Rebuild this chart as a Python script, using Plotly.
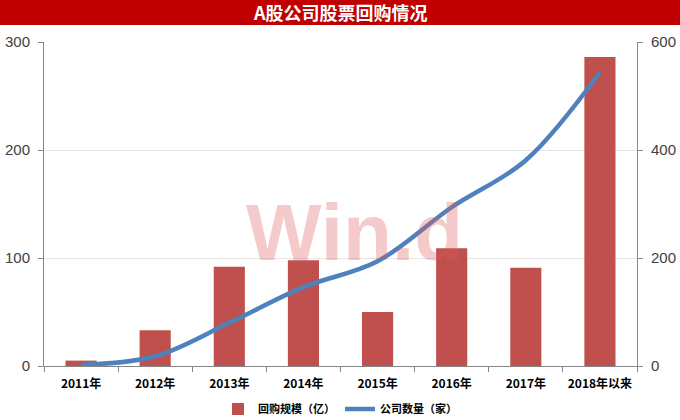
import plotly.graph_objects as go

categories = ["2011年", "2012年", "2013年", "2014年", "2015年", "2016年", "2017年", "2018年以来"]
buyback_scale = [5, 33, 92, 98, 50, 109, 91, 286]          # 回购规模（亿）
company_count = [2, 18, 80, 146, 194, 294, 381, 544]       # 公司数量（家）
left_ticks = [0, 100, 200, 300]
right_ticks = [0, 200, 400, 600]

W, H = 680, 420
ml, mr, mt, mb = 44, 43, 42, 54
pw, ph = W - ml - mr, H - mt - mb

def px_x(p):
    return (p - ml) / pw

def px_y(p):
    return (H - mb - p) / ph

fig = go.Figure()
fig.add_trace(go.Bar(
    x=categories, y=buyback_scale, name="回购规模（亿）",
    marker=dict(color="#C0504D", line=dict(width=0)), width=0.42,
    yaxis="y",
))
fig.add_trace(go.Scatter(
    x=categories, y=company_count, name="公司数量（家）",
    mode="lines", line=dict(color="#4F81BD", width=4.5, shape="spline", smoothing=1.0),
    yaxis="y2",
))

tick_font = dict(size=15, color="#404040", family="Liberation Sans Narrow, Arial Narrow, sans-serif")

fig.update_layout(
    width=W, height=H,
    margin=dict(l=ml, r=mr, t=mt, b=mb, autoexpand=False),
    paper_bgcolor="white", plot_bgcolor="white",
    font=dict(family="Noto Sans CJK SC, sans-serif", color="#000"),
    showlegend=True,
    legend=dict(orientation="h", x=0.5, xanchor="center", xref="container",
                y=1 - 409 / H, yanchor="middle", yref="container",
                font=dict(size=11, color="#000", family="Noto Sans CJK SC", weight="bold"),
                tracegroupgap=0, bgcolor="rgba(0,0,0,0)"),
    xaxis=dict(type="category", showline=True, linecolor="#868686", linewidth=1,
               ticks="outside", tickson="boundaries", ticklen=5, tickcolor="#868686",
               tickfont=dict(size=12, color="#000", family="Noto Sans CJK SC", weight="bold"),
               ticklabelstandoff=7,
               showgrid=False, automargin=False),
    yaxis=dict(range=[0, 300], tickvals=left_ticks, showline=True, linecolor="#868686",
               ticks="outside", ticklen=5, tickcolor="#868686",
               showgrid=True, gridcolor="#E6E6E6", gridwidth=1, zeroline=False,
               tickfont=tick_font, ticklabelstandoff=5, automargin=False),
    yaxis2=dict(range=[0, 600], tickvals=right_ticks, overlaying="y", side="right",
                showline=True, linecolor="#868686", ticks="outside", ticklen=5,
                tickcolor="#868686", showgrid=False, zeroline=False,
                tickfont=tick_font, ticklabelstandoff=5, automargin=False),
)

# Title bar
fig.add_shape(type="rect", xref="paper", yref="paper",
              x0=px_x(0), x1=px_x(W), y0=px_y(25), y1=px_y(0),
              fillcolor="#C00000", line=dict(width=0), layer="below")
fig.add_annotation(text="<b>A股公司股票回购情况</b>", xref="paper", yref="paper",
                   x=px_x(340), y=px_y(12.5), xanchor="center", yanchor="middle",
                   showarrow=False, font=dict(size=18, color="white", family="Noto Sans CJK SC"))

# Watermark
fig.add_annotation(text="<b>Win.d</b>", xref="paper", yref="paper",
                   x=px_x(354), y=px_y(233), xanchor="center", yanchor="middle",
                   showarrow=False,
                   font=dict(size=80, color="rgba(225,90,90,0.32)", family="Liberation Sans Narrow, Arial Narrow, sans-serif"))

fig.write_html("out.html", config={"displayModeBar": False},
               post_script="document.body.style.margin='0';document.body.style.overflow='hidden';")
